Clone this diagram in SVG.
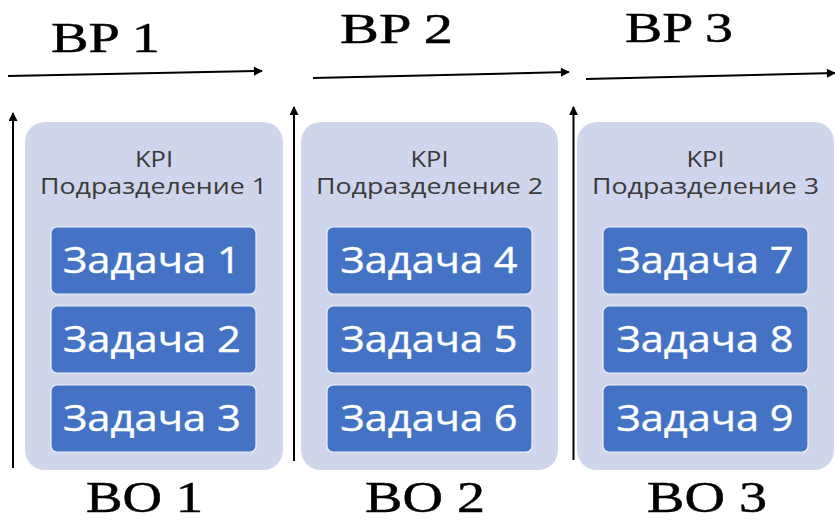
<svg xmlns="http://www.w3.org/2000/svg" width="835" height="522" viewBox="0 0 835 522">
  <defs>
    <marker id="ah" viewBox="0 0 10 10" refX="9" refY="5" markerWidth="5" markerHeight="4.5" orient="auto" markerUnits="strokeWidth">
      <path d="M0,0 L10,5 L0,10 z" fill="#000"/>
    </marker>
    <style>
      .conn { stroke: #000; stroke-width: 2; fill: none; marker-end: url(#ah); }
      .panel { fill: #CFD5EA; }
      .task { fill: #4472C4; stroke: #EEF1F8; stroke-width: 1.2; }
      .ttl { font-family: "Liberation Serif", "Times New Roman", serif; fill: #000; stroke: #000; stroke-width: 0.5; text-anchor: start; }
      .kpi { font-family: "Open Sans", "Noto Sans", sans-serif; font-size: 21px; fill: #3A3A3A; text-anchor: middle; }
      .tt { font-family: "Open Sans", "Noto Sans", sans-serif; font-size: 37px; fill: #FFFFFF; stroke: #FFFFFF; stroke-width: 0.4; text-anchor: middle; }
    </style>
  </defs>
  <rect width="835" height="522" fill="#fff"/>

  <g id="labels">
    <text class="ttl" x="51" y="52" font-size="43" textLength="109" lengthAdjust="spacingAndGlyphs">BP 1</text>
    <text class="ttl" x="340" y="43" font-size="43" textLength="113" lengthAdjust="spacingAndGlyphs">BP 2</text>
    <text class="ttl" x="625" y="42" font-size="43" textLength="108" lengthAdjust="spacingAndGlyphs">BP 3</text>
    <text class="ttl" x="86" y="512" font-size="44" textLength="117" lengthAdjust="spacingAndGlyphs">BO 1</text>
    <text class="ttl" x="365" y="512" font-size="44" textLength="120" lengthAdjust="spacingAndGlyphs">BO 2</text>
    <text class="ttl" x="647" y="512" font-size="44" textLength="120" lengthAdjust="spacingAndGlyphs">BO 3</text>
  </g>

  <g id="connectors">
    <line class="conn" x1="8" y1="76" x2="262" y2="71"/>
    <line class="conn" x1="313" y1="78" x2="569" y2="72"/>
    <line class="conn" x1="586" y1="79" x2="835" y2="73"/>
    <line class="conn" x1="13" y1="468" x2="13" y2="113"/>
    <line class="conn" x1="294" y1="461" x2="294" y2="107"/>
    <line class="conn" x1="573.5" y1="460" x2="573.5" y2="107"/>
  </g>

  <g id="panel1">
    <rect class="panel" x="25" y="122" width="258" height="348" rx="20"/>
    <text class="kpi" x="154" y="167" textLength="38" lengthAdjust="spacingAndGlyphs">KPI</text>
    <text class="kpi" x="153.5" y="194" textLength="227" lengthAdjust="spacingAndGlyphs">Подразделение 1</text>
  </g>
  <g id="task1"><rect class="task" x="51" y="227" width="205" height="67" rx="6"/><text class="tt" x="152" y="273" textLength="178" lengthAdjust="spacingAndGlyphs">Задача 1</text></g>
  <g id="task2"><rect class="task" x="51" y="306" width="205" height="67" rx="6"/><text class="tt" x="152" y="352" textLength="178" lengthAdjust="spacingAndGlyphs">Задача 2</text></g>
  <g id="task3"><rect class="task" x="51" y="385" width="205" height="67" rx="6"/><text class="tt" x="152" y="431" textLength="178" lengthAdjust="spacingAndGlyphs">Задача 3</text></g>

  <g id="panel2">
    <rect class="panel" x="301" y="122" width="257" height="348" rx="20"/>
    <text class="kpi" x="429.5" y="167" textLength="38" lengthAdjust="spacingAndGlyphs">KPI</text>
    <text class="kpi" x="429.5" y="194" textLength="227" lengthAdjust="spacingAndGlyphs">Подразделение 2</text>
  </g>
  <g id="task4"><rect class="task" x="327" y="227" width="205" height="67" rx="6"/><text class="tt" x="429" y="273" textLength="177" lengthAdjust="spacingAndGlyphs">Задача 4</text></g>
  <g id="task5"><rect class="task" x="327" y="306" width="205" height="67" rx="6"/><text class="tt" x="429" y="352" textLength="177" lengthAdjust="spacingAndGlyphs">Задача 5</text></g>
  <g id="task6"><rect class="task" x="327" y="385" width="205" height="67" rx="6"/><text class="tt" x="429" y="431" textLength="177" lengthAdjust="spacingAndGlyphs">Задача 6</text></g>

  <g id="panel3">
    <rect class="panel" x="577" y="122" width="257" height="348" rx="20"/>
    <text class="kpi" x="705.5" y="167" textLength="38" lengthAdjust="spacingAndGlyphs">KPI</text>
    <text class="kpi" x="705.5" y="194" textLength="227" lengthAdjust="spacingAndGlyphs">Подразделение 3</text>
  </g>
  <g id="task7"><rect class="task" x="603" y="227" width="205" height="67" rx="6"/><text class="tt" x="705" y="273" textLength="177" lengthAdjust="spacingAndGlyphs">Задача 7</text></g>
  <g id="task8"><rect class="task" x="603" y="306" width="205" height="67" rx="6"/><text class="tt" x="705" y="352" textLength="177" lengthAdjust="spacingAndGlyphs">Задача 8</text></g>
  <g id="task9"><rect class="task" x="603" y="385" width="205" height="67" rx="6"/><text class="tt" x="705" y="431" textLength="177" lengthAdjust="spacingAndGlyphs">Задача 9</text></g>
</svg>
